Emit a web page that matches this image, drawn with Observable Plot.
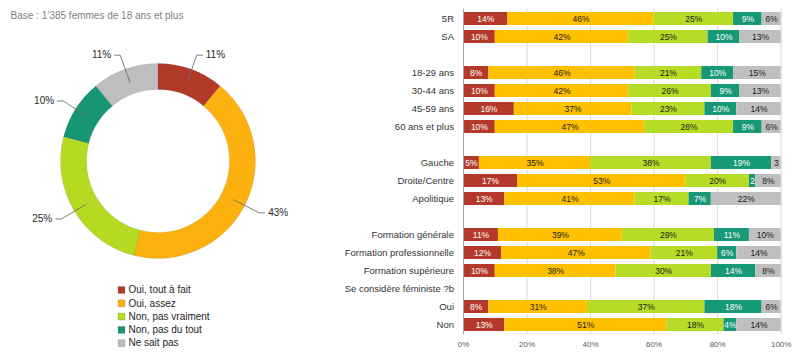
<!DOCTYPE html>
<html><head><meta charset="utf-8">
<script src="https://cdn.jsdelivr.net/npm/d3@7"></script>
<script src="https://cdn.jsdelivr.net/npm/@observablehq/plot@0.6"></script>
<style>
html,body{margin:0;padding:0;background:#fff;}
#wrap{position:relative;width:796px;height:358px;overflow:hidden;font-family:"Liberation Sans",Arial,sans-serif;}
#left{position:absolute;left:0;top:0;}
#right{position:absolute;left:330px;top:0;}
</style></head><body>
<div id="wrap"><div id="left"></div><div id="right"></div></div>
<script>
// ---------- data ----------
const baseText = "Base : 1’385 femmes de 18 ans et plus";
const answers = ["Oui, tout à fait", "Oui, assez", "Non, pas vraiment", "Non, pas du tout", "Ne sait pas"];
const donutValues = [11, 43, 25, 10, 11];

const categories = ["5R", "SA", "", "18-29 ans", "30-44 ans", "45-59 ans", "60 ans et plus", "",
  "Gauche", "Droite/Centre", "Apolitique", "", "Formation générale", "Formation professionnelle",
  "Formation supérieure", "Se considère féministe ?b", "Oui", "Non"];
const ouiToutAFait   = [14, 10, null,  8, 10, 16, 10, null,  5, 17, 13, null, 11, 12, 10, null,  8, 13];
const ouiAssez       = [46, 42, null, 46, 42, 37, 47, null, 35, 53, 41, null, 39, 47, 38, null, 31, 51];
const nonPasVraiment = [25, 25, null, 21, 26, 23, 28, null, 38, 20, 17, null, 29, 21, 30, null, 37, 18];
const nonPasDuTout   = [ 9, 10, null, 10,  9, 10,  9, null, 19,  2,  7, null, 11,  6, 14, null, 18,  4];
const neSaitPas      = [ 6, 13, null, 15, 13, 14,  6, null,  3,  8, 22, null, 10, 14,  8, null,  6, 14];
const xTicks = [0, 20, 40, 60, 80, 100];

// ---------- styles ----------
const barColors = ["#B5392B", "#FFC000", "#B7DC26", "#179877", "#BFBFBF"];
const donutColors = ["#B23A28", "#FDB10F", "#B5DA22", "#179676", "#BEBEBE"];
const lightText = new Set(["Oui, tout à fait", "Non, pas du tout"]);
const fontFamily = "'Liberation Sans', Arial, sans-serif";

// ---------- left: donut + legend ----------
const cx = 158, cy = 161, rOuter = 97.5, rInner = 71.5;
const donutData = answers.map((a, i) => ({answer: a, value: donutValues[i]}));
const pieArcs = d3.pie().sort(null).value(d => d.value)(donutData);
const leaders = pieArcs.map(p => {
  const a = (p.startAngle + p.endAngle) / 2;
  const side = Math.sin(a) >= 0 ? 1 : -1;
  const r1 = 84, r2 = 113;
  const x1 = cx + r1 * Math.sin(a), y1 = cy - r1 * Math.cos(a);
  const x2 = cx + r2 * Math.sin(a), y2 = cy - r2 * Math.cos(a);
  const x3 = x2 + side * 6, y3 = y2;
  return {x1, y1, x2, y2, x3, y3, tx: x3 + side * 3, side, label: p.data.value + "%"};
});
const legend = answers.map((a, i) => ({answer: a, x: 121, y: 289.5 + i * 13.3}));

function donutMark(index, scales) {
  const X = scales && scales.x ? scales.x : (v => v);
  const Y = scales && scales.y ? scales.y : (v => v);
  const color = scales && scales.color ? scales.color : (a => donutColors[answers.indexOf(a)]);
  const arc = d3.arc().innerRadius(rInner).outerRadius(rOuter);
  const g = d3.create("svg:g").attr("transform", `translate(${X(cx)},${Y(cy)})`);
  g.selectAll("path").data(pieArcs).join("path")
    .attr("d", arc)
    .attr("fill", d => color(d.data.answer))
    .attr("stroke", "rgba(0,0,0,0.12)")
    .attr("stroke-width", 0.7);
  return g.node();
}

const left = Plot.plot({
  width: 330, height: 358, margin: 0,
  style: {fontFamily, fontSize: "10px", color: "#262626", background: "white"},
  x: {domain: [0, 330], range: [0, 330], axis: null},
  y: {domain: [0, 358], range: [0, 358], axis: null},
  color: {domain: answers, range: donutColors},
  marks: [
    Plot.text([baseText], {x: 10, y: 15, text: d => d, textAnchor: "start", fill: "#808080", fontSize: 10}),
    donutMark,
    Plot.link(leaders, {x1: "x1", y1: "y1", x2: "x2", y2: "y2", stroke: "#6f6f6f", strokeWidth: 0.9}),
    Plot.link(leaders, {x1: "x2", y1: "y2", x2: "x3", y2: "y3", stroke: "#6f6f6f", strokeWidth: 0.9}),
    Plot.text(leaders.filter(d => d.side > 0), {x: "tx", y: "y3", text: "label", textAnchor: "start", fontSize: 10, fill: "#262626"}),
    Plot.text(leaders.filter(d => d.side < 0), {x: "tx", y: "y3", text: "label", textAnchor: "end", fontSize: 10, fill: "#262626"}),
    Plot.dot(legend, {x: "x", y: "y", fill: "answer", symbol: "square", r: 3.9, stroke: "rgba(0,0,0,0.25)", strokeWidth: 0.5}),
    Plot.text(legend, {x: d => d.x + 7, y: "y", text: "answer", textAnchor: "start", fontSize: 10, fill: "#262626"})
  ]
});
document.getElementById("left").append(left);

// ---------- right: stacked bars ----------
const seriesValues = [ouiToutAFait, ouiAssez, nonPasVraiment, nonPasDuTout, neSaitPas];
const tidy = [];
categories.forEach((c, i) => {
  if (seriesValues[0][i] == null) return;
  answers.forEach((a, j) => tidy.push({row: i, answer: a, value: seriesValues[j][i]}));
});
const fmt = v => v < 4 ? String(v) : v + "%";

const right = Plot.plot({
  width: 466, height: 358,
  marginLeft: 133, marginRight: 15.3, marginTop: 8.8, marginBottom: 23.7,
  style: {fontFamily, fontSize: "10px", color: "#262626", background: "white"},
  x: {domain: [0, 100], label: null},
  y: {domain: d3.range(categories.length), paddingInner: 0.3, paddingOuter: 0.15, label: null},
  color: {domain: answers, range: barColors},
  marks: [
    Plot.ruleX(xTicks, {stroke: "#d9d9d9"}),
    Plot.barX(tidy, {y: "row", x: "value", fill: "answer", z: "answer", order: answers}),
    Plot.ruleX([0], {stroke: "#a6a6a6"}),
    Plot.text(tidy, Plot.stackX({y: "row", x: "value", z: "answer", order: answers,
      text: d => lightText.has(d.answer) ? fmt(d.value) : null, fill: "white", fontSize: 8.5})),
    Plot.text(tidy, Plot.stackX({y: "row", x: "value", z: "answer", order: answers,
      text: d => lightText.has(d.answer) ? null : fmt(d.value), fill: "#1a1a1a", fontSize: 8.5})),
    Plot.axisY({tickSize: 0, tickPadding: 9.5, tickFormat: i => categories[i], fontSize: 9.5, color: "#333333", label: null}),
    Plot.axisX({ticks: xTicks, tickFormat: d => d + "%", tickSize: 0, tickPadding: 7, fontSize: 8, color: "#595959", label: null})
  ]
});
document.getElementById("right").append(right);
</script>
</body></html>
